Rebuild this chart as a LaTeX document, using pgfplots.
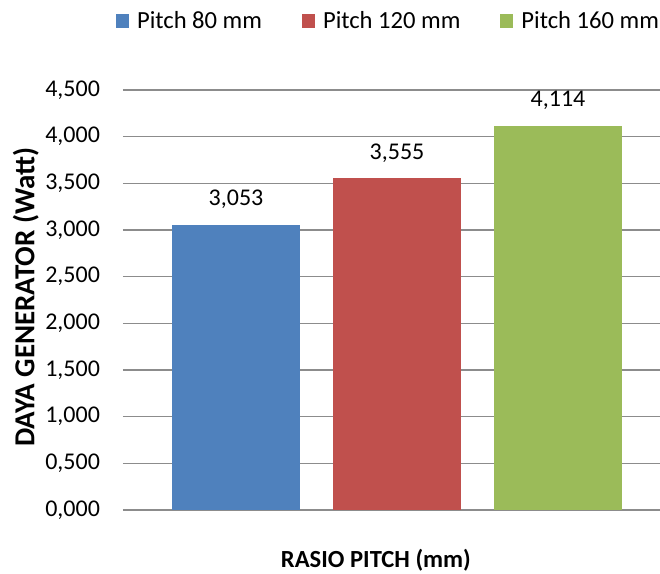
\documentclass[border=0pt]{standalone}
\usepackage{pgfplots}
\pgfplotsset{compat=1.18}
\usetikzlibrary{calc}
\usepackage{fontspec}
\setmainfont{Carlito}

\definecolor{barblue}{HTML}{4F81BD}
\definecolor{barred}{HTML}{C0504D}
\definecolor{bargreen}{HTML}{9BBB59}
\definecolor{gridgray}{HTML}{8C8C8C}

\begin{document}
\begin{tikzpicture}[x=0.5pt,y=0.5pt,font=\fontsize{12}{14}\selectfont]
\begin{axis}[
  name=ax,
  at={(0,0)}, anchor=south west,
  scale only axis,
  width=268.5pt, height=210pt,
  ymin=0, ymax=4.5,
  ytick={0,0.5,...,4.5},
  xmin=-0.7019, xmax=2.6335,
  xtick=\empty,
  ymajorgrids,
  grid style={gridgray, line width=0.6pt},
  axis line style={draw=none},
  major tick length=0pt,
  /pgf/number format/assume math mode=true,
  yticklabel style={xshift=-8pt,
    /pgf/number format/fixed, /pgf/number format/fixed zerofill,
    /pgf/number format/precision=3, /pgf/number format/use comma,
    /pgf/number format/1000 sep={}},
  ylabel={\fontsize{14.5}{17}\selectfont\bfseries DAYA GENERATOR (Watt)},
  ylabel style={at={(axis description cs:-0.181,0.507)}, anchor=center, rotate=0},
  xlabel={\fontsize{12.3}{14}\selectfont\bfseries RASIO PITCH (mm)},
  xlabel style={at={(axis description cs:0.471,-0.12)}, anchor=center},
  ybar=0pt, bar width=64pt,
  nodes near coords,
  nodes near coords style={black, yshift=4.5pt,
    /pgf/number format/fixed, /pgf/number format/fixed zerofill,
    /pgf/number format/precision=3, /pgf/number format/use comma,
    /pgf/number format/1000 sep={}},
  legend style={at={(axis description cs:0.5,1.164)}, anchor=center, draw=none, fill=none,
    font=\fontsize{12.3}{14}\selectfont,
    legend columns=-1,
    /tikz/every even column/.append style={column sep=16pt},
    nodes={inner xsep=4pt},
    legend cell align=left},
  legend image code/.code={\fill[#1] (0pt,-3.5pt) rectangle (6.5pt,3.5pt);},
]
\addplot[draw=none, fill=barblue, bar shift=0pt] coordinates {(0,3.053)};
\addplot[draw=none, fill=barred, bar shift=0pt] coordinates {(1,3.555)};
\addplot[draw=none, fill=bargreen, bar shift=0pt] coordinates {(2,4.114)};
\legend{Pitch 80 mm, Pitch 120 mm, Pitch 160 mm}
\end{axis}
% fixed page frame around the plot area
\pgfresetboundingbox
\path ($(ax.south west)+(-123,-64)$) rectangle ++(660,574);
\end{tikzpicture}
\end{document}
